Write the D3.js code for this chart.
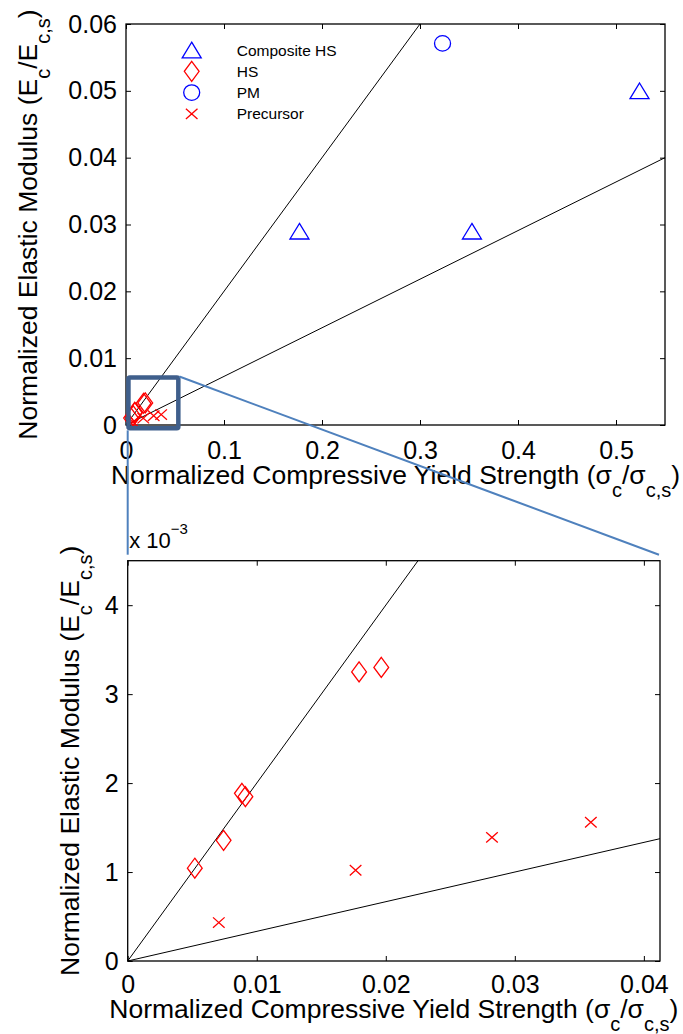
<!DOCTYPE html>
<html>
<head>
<meta charset="utf-8">
<script src="https://cdn.jsdelivr.net/npm/d3@7"></script>
<style>
  html, body { margin: 0; padding: 0; background: #fff; }
  svg { display: block; font-family: "Liberation Sans", Arial, Helvetica, sans-serif; }
</style>
</head>
<body>
<svg id="chart" width="683" height="1034"></svg>
<script>
// ---- data ----
const compositeX = [0.177, 0.353, 0.524];
const compositeY = [0.029, 0.029, 0.050];
const pmX = [0.323];
const pmY = [0.0571];
const hsX = [0.0052, 0.00743, 0.00885, 0.00912, 0.01793, 0.01965];
const hsY = [0.001043, 0.001357, 0.001885, 0.001847, 0.00325, 0.0033];
const precursorX = [0.00706, 0.01766, 0.02823, 0.03589];
const precursorY = [0.000432, 0.00102, 0.00139, 0.00156];

// guide lines through the origin (slope E/sigma), per panel
const overviewSlopes = [0.2, 0.04 / 0.55];
const detailSlopes = [0.2, 1 / 30];

// axis ticks
const overviewXTicks = [0, 0.1, 0.2, 0.3, 0.4, 0.5];
const overviewXLabels = ["0", "0.1", "0.2", "0.3", "0.4", "0.5"];
const overviewYTicks = [0, 0.01, 0.02, 0.03, 0.04, 0.05, 0.06];
const overviewYLabels = ["0", "0.01", "0.02", "0.03", "0.04", "0.05", "0.06"];
const detailXTicks = [0, 0.01, 0.02, 0.03, 0.04];
const detailXLabels = ["0", "0.01", "0.02", "0.03", "0.04"];
const detailYTicks = [0, 0.001, 0.002, 0.003, 0.004];
const detailYLabels = ["0", "1", "2", "3", "4"];

// legend
const legendNames = ["Composite HS", "HS", "PM", "Precursor"];

// zoomed region marked on the overview (data units of the overview axes)
const zoomBoxX = [0.0025, 0.0534];
const zoomBoxY = [-0.0005, 0.0071];

// ---- drawing ----
const svg = d3.select("#chart");
const RED = "#ff0000", BLUE = "#0000ff";

const shapes = {
  triangle: "M0,-7.8L9.5,7.8L-9.5,7.8Z",
  diamond: "M0,-10L7.4,0L0,10L-7.4,0Z",
  circle: "M8,0A8,7.8 0 1,1 -8,0A8,7.8 0 1,1 8,0Z",
  cross: "M-5.8,-5.2L5.8,5.2M-5.8,5.2L5.8,-5.2"
};

function zip(xs, ys) { return xs.map((x, i) => [x, ys[i]]); }

function panel(opts) {
  const { x, y, xTicks, xLabels, yTicks, yLabels, slopes, xPad, series } = opts;
  const g = svg.append("g");
  const [x0, x1] = x.range();
  const [y0, y1] = y.range();

  // fit lines, clipped to the plot box
  const xMax = x.domain()[1], yMax = y.domain()[1];
  slopes.forEach(s => {
    const xe = Math.min(xMax, yMax / s);
    g.append("line")
      .attr("x1", x(0)).attr("y1", y(0))
      .attr("x2", x(xe)).attr("y2", y(xe * s))
      .attr("stroke", "#000").attr("stroke-width", 1);
  });

  // axes: ticks point inward on all four sides
  const fmt = labels => (d, i) => labels[i];
  g.append("g").attr("transform", `translate(0,${y0})`)
    .call(d3.axisBottom(x).tickValues(xTicks).tickFormat(fmt(xLabels))
      .tickSizeInner(-5).tickSizeOuter(0).tickPadding(xPad));
  g.append("g").attr("transform", `translate(${x0},0)`)
    .call(d3.axisLeft(y).tickValues(yTicks).tickFormat(fmt(yLabels))
      .tickSizeInner(-5).tickSizeOuter(0).tickPadding(9));
  g.append("g").attr("transform", `translate(0,${y1})`)
    .call(d3.axisTop(x).tickValues(xTicks).tickFormat("").tickSizeInner(-5).tickSizeOuter(0));
  g.append("g").attr("transform", `translate(${x1},0)`)
    .call(d3.axisRight(y).tickValues(yTicks).tickFormat("").tickSizeInner(-5).tickSizeOuter(0));
  g.selectAll(".domain").remove();
  g.selectAll(".tick line").attr("stroke", "#000").attr("stroke-width", 1);
  g.selectAll(".tick text").attr("font-size", 25).attr("fill", "#000")
    .attr("font-family", "Liberation Sans, Arial, sans-serif");

  // frame
  g.append("rect")
    .attr("x", x0).attr("y", y1)
    .attr("width", x1 - x0).attr("height", y0 - y1)
    .attr("fill", "none").attr("stroke", "#000").attr("stroke-width", 1.3);

  // markers
  series.forEach(s => {
    g.append("g").selectAll("path").data(zip(s.xs, s.ys)).join("path")
      .attr("transform", d => `translate(${x(d[0])},${y(d[1])})`)
      .attr("d", shapes[s.shape])
      .attr("fill", "none").attr("stroke", s.color).attr("stroke-width", 1.3);
  });
  return g;
}

function axisTitles(x, y, xBase, yBase) {
  const [x0, x1] = x.range();
  const [y0, y1] = y.range();
  const xt = svg.append("text")
    .attr("x", (x0 + x1) / 2).attr("y", xBase)
    .attr("text-anchor", "middle").attr("font-size", 26.5).attr("fill", "#000");
  xt.append("tspan").text("Normalized Compressive Yield Strength (\u03c3");
  xt.append("tspan").attr("font-size", 20).attr("dy", 13).text("c");
  xt.append("tspan").attr("dy", -13).text("/\u03c3");
  xt.append("tspan").attr("font-size", 20).attr("dy", 13).text("c,s");
  xt.append("tspan").attr("dy", -13).text(")");

  const yt = svg.append("text")
    .attr("transform", `translate(${yBase},${(y0 + y1) / 2}) rotate(-90)`)
    .attr("text-anchor", "middle").attr("font-size", 26.5).attr("fill", "#000");
  yt.append("tspan").text("Normalized Elastic Modulus (E");
  yt.append("tspan").attr("font-size", 20).attr("dy", 13).text("c");
  yt.append("tspan").attr("dy", -13).text("/E");
  yt.append("tspan").attr("font-size", 20).attr("dy", 13).text("c,s");
  yt.append("tspan").attr("dy", -13).text(")");
}

// overview panel
const xTop = d3.scaleLinear().domain([0, 0.55]).range([126, 665]);
const yTop = d3.scaleLinear().domain([0, 0.06]).range([425, 24]);

panel({
  x: xTop, y: yTop,
  xTicks: overviewXTicks, xLabels: overviewXLabels,
  yTicks: overviewYTicks, yLabels: overviewYLabels,
  slopes: overviewSlopes, xPad: 16,
  series: [
    { xs: compositeX, ys: compositeY, shape: "triangle", color: BLUE },
    { xs: hsX, ys: hsY, shape: "diamond", color: RED },
    { xs: pmX, ys: pmY, shape: "circle", color: BLUE },
    { xs: precursorX, ys: precursorY, shape: "cross", color: RED }
  ]
});
axisTitles(xTop, yTop, 484, 36.7);

// legend
const legendShapes = ["triangle", "diamond", "circle", "cross"];
const legendColors = [BLUE, RED, BLUE, RED];
const legend = svg.append("g").attr("transform", "translate(191.7,50)");
legendNames.forEach((name, i) => {
  const row = legend.append("g").attr("transform", `translate(0,${i * 21.3})`);
  row.append("path").attr("d", shapes[legendShapes[i]])
    .attr("fill", "none").attr("stroke", legendColors[i]).attr("stroke-width", 1.3);
  row.append("text").attr("x", 45).attr("y", 5.5)
    .attr("font-size", 15.5).attr("fill", "#000").text(name);
});

// detail panel
const xBot = d3.scaleLinear().domain([0, 0.04125]).range([127.7, 660]);
const yBot = d3.scaleLinear().domain([0, 0.0045]).range([961, 560.7]);

panel({
  x: xBot, y: yBot,
  xTicks: detailXTicks, xLabels: detailXLabels,
  yTicks: detailYTicks, yLabels: detailYLabels,
  slopes: detailSlopes, xPad: 14,
  series: [
    { xs: hsX, ys: hsY, shape: "diamond", color: RED },
    { xs: precursorX, ys: precursorY, shape: "cross", color: RED }
  ]
});
axisTitles(xBot, yBot, 1018, 78.5);

// exponent label of the detail y axis
const expo = svg.append("text")
  .attr("x", xBot.range()[0] + 1.5).attr("y", yBot.range()[1] - 12.5)
  .attr("font-size", 22).attr("fill", "#000");
expo.append("tspan").text("x 10");
expo.append("tspan").attr("font-size", 15).attr("dy", -14).text("\u22123");

// zoom box on the overview and its connectors to the detail panel
svg.append("rect")
  .attr("x", xTop(zoomBoxX[0])).attr("y", yTop(zoomBoxY[1]))
  .attr("width", xTop(zoomBoxX[1]) - xTop(zoomBoxX[0]))
  .attr("height", yTop(zoomBoxY[0]) - yTop(zoomBoxY[1]))
  .attr("rx", 1.5)
  .attr("fill", "none").attr("stroke", "#3f5f8c").attr("stroke-width", 4.5);

const connTop = yBot.range()[1] - 6;
svg.append("line")
  .attr("x1", xBot.range()[0]).attr("y1", yTop(zoomBoxY[0]) + 2)
  .attr("x2", xBot.range()[0]).attr("y2", connTop)
  .attr("stroke", "#4f81bd").attr("stroke-width", 2);
svg.append("line")
  .attr("x1", xTop(zoomBoxX[1]) + 1).attr("y1", yTop(zoomBoxY[1]) - 1)
  .attr("x2", xBot.range()[1] - 1).attr("y2", connTop)
  .attr("stroke", "#4f81bd").attr("stroke-width", 2);
</script>
</body>
</html>
